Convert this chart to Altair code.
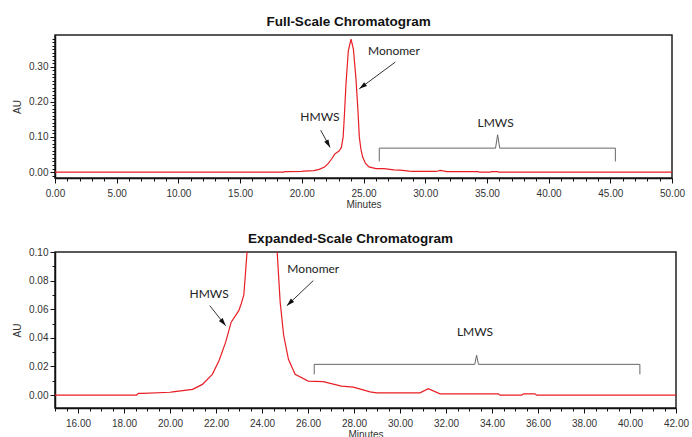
import math
import altair as alt
import pandas as pd

# ---------------- data ----------------
minutes = [0.0, 18.55, 18.62, 18.82, 20.0, 20.12, 20.98, 21.41, 21.84, 22.13, 22.42,
           22.66, 22.99, 23.10, 23.21, 23.35, 23.45, 23.58, 23.77, 23.99, 24.18,
           24.39, 24.55, 24.66, 24.79, 24.94, 25.15, 25.44, 26.01, 26.66, 27.45,
           27.97, 28.70, 28.99, 30.87, 31.23, 31.74, 34.28, 34.35, 35.30, 35.36,
           35.87, 35.94, 50.0]
au = [0.0, 0.0, 0.0012, 0.0012, 0.0020, 0.0023, 0.0040, 0.0075, 0.0145, 0.024, 0.037,
      0.051, 0.059, 0.064, 0.070, 0.100, 0.160, 0.250, 0.345, 0.378, 0.350,
      0.265, 0.175, 0.100, 0.065, 0.042, 0.025, 0.0145, 0.0098, 0.0094, 0.0063,
      0.0056, 0.0023, 0.0016, 0.0016, 0.0045, 0.0009, 0.0009, 0.0, 0.0, 0.0009,
      0.0009, 0.0, 0.0]

# panel settings
top_title = "Full-Scale Chromatogram"
bot_title = "Expanded-Scale Chromatogram"
top_xdom = [0, 50]
top_ydom = [-0.017, 0.39]
bot_xdom = [15, 42]
bot_ydom = [-0.009, 0.10]
top_xstep, top_xminor = 5, list(range(0, 51))
top_ystep, top_yminor = 0.1, [round(-0.01 + 0.01 * i, 2) for i in range(40)]
bot_xstep, bot_xminor = 2, [15 + 0.5 * i for i in range(55)]
bot_ystep, bot_yminor = 0.02, [round(-0.01 + 0.01 * i, 2) for i in range(12)]

# annotations
top_labels = ["HMWS", "Monomer", "LMWS"]
top_label_x = [21.47, 27.46, 35.71]
top_label_y = [0.158, 0.344, 0.140]
top_arrow_x1 = [21.53, 27.58]
top_arrow_y1 = [0.119, 0.313]
top_arrow_x2 = [22.29, 24.66]
top_arrow_y2 = [0.070, 0.237]
top_brace_x = [26.28, 26.28, 35.70, 35.87, 36.04, 45.41, 45.41]
top_brace_y = [0.030, 0.068, 0.068, 0.106, 0.068, 0.068, 0.030]

bot_labels = ["HMWS", "Monomer", "LMWS"]
bot_label_x = [21.70, 26.23, 33.26]
bot_label_y = [0.0707, 0.0883, 0.0443]
bot_arrow_x1 = [21.73, 26.23]
bot_arrow_y1 = [0.0625, 0.080]
bot_arrow_x2 = [22.42, 25.08]
bot_arrow_y2 = [0.0485, 0.0625]
bot_brace_x = [26.27, 26.27, 33.25, 33.33, 33.41, 40.43, 40.43]
bot_brace_y = [0.0145, 0.0215, 0.0215, 0.0279, 0.0215, 0.0215, 0.0145]

curve = pd.DataFrame({"t": minutes, "au": au})

AXIS_FONT = "Liberation Sans"
ANNO_FONT = "Lato"
ARROW_PATH = "M0,0L-0.8,2.6L0.8,2.6Z"


def major_test(step):
    return f"abs(datum.value / {step} - round(datum.value / {step})) < 0.001"


def axis(values, step, title, orient, label_pad, title_pad):
    test = major_test(step)
    return alt.Axis(
        values=values, tickCount=1000, title=title, orient=orient,
        labelExpr=f"({test}) ? format(datum.value, '.2f') : ''",
        tickSize={"condition": {"test": test, "value": 5}, "value": 3},
        labelPadding=label_pad, titlePadding=title_pad, grid=False,
        labelFont=AXIS_FONT, titleFont=AXIS_FONT, labelFontSize=10,
        titleFontSize=10, titleFontWeight="normal", labelColor="#333",
        titleColor="#333", domainColor="#111", tickColor="#111",
        domainWidth=1.5, tickWidth=1, labelFlush=False, labelOverlap=False,
        labelBound=False)


def panel(title, title_offset, xdom, ydom, W, H, xminor, xstep, yminor, ystep,
          labels, lx, ly, ax1, ay1, ax2, ay2, bx, by):
    xs = alt.Scale(domain=xdom, nice=False, zero=False)
    ys = alt.Scale(domain=ydom, nice=False, zero=False)

    line = alt.Chart(curve).mark_line(color="#e81e25", strokeWidth=1.2, clip=True).encode(
        x=alt.X("t:Q", scale=xs, axis=axis(xminor, xstep, "Minutes", "bottom", 5, 1)),
        y=alt.Y("au:Q", scale=ys, axis=axis(yminor, ystep, "AU", "left", 2, 6)),
    )

    ann_txt = alt.Chart(pd.DataFrame({"x": lx, "y": ly, "s": labels})).mark_text(
        font=ANNO_FONT, fontSize=12, color="#222", align="center", baseline="middle"
    ).encode(x=alt.X("x:Q"), y=alt.Y("y:Q"), text="s:N")

    ang = []
    for a, b, c, d in zip(ax1, ay1, ax2, ay2):
        dx = (c - a) * W / (xdom[1] - xdom[0])
        dy = -(d - b) * H / (ydom[1] - ydom[0])
        ang.append(math.degrees(math.atan2(dx, -dy)) % 360)
    arr = pd.DataFrame({"x1": ax1, "y1": ay1, "x2": ax2, "y2": ay2, "ang": ang})
    rules = alt.Chart(arr).mark_rule(color="#333", strokeWidth=1).encode(
        x=alt.X("x1:Q"), y=alt.Y("y1:Q"), x2="x2:Q", y2="y2:Q")
    heads = alt.Chart(arr).mark_point(shape=ARROW_PATH, filled=True, color="#111",
                                      size=36, opacity=1).encode(
        x=alt.X("x2:Q"), y=alt.Y("y2:Q"), angle=alt.Angle("ang:Q", scale=None))

    brace = alt.Chart(pd.DataFrame({"x": bx, "y": by, "o": list(range(len(bx)))})).mark_line(
        color="#666", strokeWidth=1).encode(
        x=alt.X("x:Q"), y=alt.Y("y:Q"), order="o:Q")

    return alt.layer(line, brace, rules, heads, ann_txt).properties(
        width=W, height=H,
        title=alt.TitleParams(title, anchor="middle", frame="bounds", font=AXIS_FONT,
                              fontSize=13.5, fontWeight="bold", color="#111",
                              offset=title_offset),
    )


top = panel(top_title, 5, top_xdom, top_ydom, 617, 143, top_xminor, top_xstep,
            top_yminor, top_ystep, top_labels, top_label_x, top_label_y,
            top_arrow_x1, top_arrow_y1, top_arrow_x2, top_arrow_y2,
            top_brace_x, top_brace_y)
bot = panel(bot_title, 2, bot_xdom, bot_ydom, 621, 156, bot_xminor, bot_xstep,
            bot_yminor, bot_ystep, bot_labels, bot_label_x, bot_label_y,
            bot_arrow_x1, bot_arrow_y1, bot_arrow_x2, bot_arrow_y2,
            bot_brace_x, bot_brace_y)

chart = alt.vconcat(top, bot, spacing=20).properties(
    padding={"left": 11, "top": 14, "right": 0, "bottom": 0},
    background="white",
).configure_view(stroke="#222", strokeWidth=1.5)

chart.save("out.html", embed_options={"renderer": "svg", "actions": False})
